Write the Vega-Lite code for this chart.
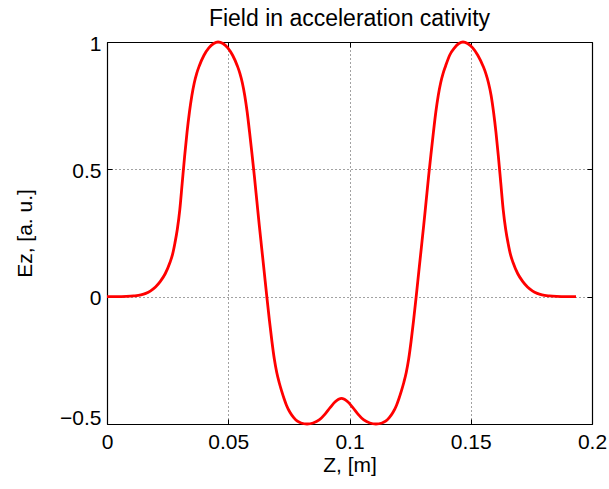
{
  "$schema": "https://vega.github.io/schema/vega-lite/v6.json",
  "autosize": {"type": "none"},
  "padding": {"left": 107, "top": 42, "right": 17, "bottom": 65},
  "width": 485,
  "height": 382,
  "title": {"text": "Field in acceleration cativity", "font": "Liberation Sans", "fontSize": 23, "fontWeight": "normal", "color": "black", "offset": 2, "anchor": "middle"},
  "config": {
    "view": {"stroke": null},
    "font": "Liberation Sans",
    "axis": {"labelFont": "Liberation Sans", "titleFont": "Liberation Sans", "labelColor": "black", "titleColor": "black", "domainColor": "black", "tickColor": "black", "titleFontWeight": "normal"}
  },
  "data": {"values": [
    {"z":0,"ez":0},{"z":0.004,"ez":0},{"z":0.008,"ez":0.001},{"z":0.011,"ez":0.003},{"z":0.014,"ez":0.007},{"z":0.016,"ez":0.013},{"z":0.018,"ez":0.023},{"z":0.02,"ez":0.038},{"z":0.022,"ez":0.06},{"z":0.024,"ez":0.09},{"z":0.026,"ez":0.135},{"z":0.027,"ez":0.165},{"z":0.028,"ez":0.21},{"z":0.029,"ez":0.265},{"z":0.03,"ez":0.34},{"z":0.031,"ez":0.445},{"z":0.032,"ez":0.55},{"z":0.033,"ez":0.645},{"z":0.034,"ez":0.725},{"z":0.035,"ez":0.79},{"z":0.036,"ez":0.84},{"z":0.037,"ez":0.877},{"z":0.038,"ez":0.905},{"z":0.04,"ez":0.948},{"z":0.042,"ez":0.977},{"z":0.044,"ez":0.994},{"z":0.0458,"ez":1},{"z":0.0478,"ez":0.994},{"z":0.0498,"ez":0.977},{"z":0.0518,"ez":0.948},{"z":0.0538,"ez":0.905},{"z":0.0548,"ez":0.877},{"z":0.0558,"ez":0.84},{"z":0.0568,"ez":0.79},{"z":0.0578,"ez":0.725},{"z":0.0588,"ez":0.645},{"z":0.0598,"ez":0.56},{"z":0.0608,"ez":0.47},{"z":0.0618,"ez":0.375},{"z":0.0628,"ez":0.28},{"z":0.0638,"ez":0.19},{"z":0.0648,"ez":0.1},{"z":0.0659,"ez":0},{"z":0.067,"ez":-0.095},{"z":0.068,"ez":-0.175},{"z":0.069,"ez":-0.245},{"z":0.07,"ez":-0.298},{"z":0.071,"ez":-0.337},{"z":0.072,"ez":-0.37},{"z":0.073,"ez":-0.4},{"z":0.074,"ez":-0.426},{"z":0.0755,"ez":-0.455},{"z":0.077,"ez":-0.475},{"z":0.0785,"ez":-0.489},{"z":0.08,"ez":-0.496},{"z":0.0825,"ez":-0.5},{"z":0.085,"ez":-0.496},{"z":0.0875,"ez":-0.484},{"z":0.09,"ez":-0.46},{"z":0.092,"ez":-0.436},{"z":0.094,"ez":-0.414},{"z":0.0955,"ez":-0.403},{"z":0.0967,"ez":-0.399},{"z":0.0979,"ez":-0.403},{"z":0.0994,"ez":-0.414},{"z":0.1014,"ez":-0.436},{"z":0.1034,"ez":-0.46},{"z":0.1059,"ez":-0.484},{"z":0.1084,"ez":-0.496},{"z":0.1109,"ez":-0.5},{"z":0.1134,"ez":-0.496},{"z":0.1149,"ez":-0.489},{"z":0.1164,"ez":-0.475},{"z":0.1179,"ez":-0.455},{"z":0.1194,"ez":-0.426},{"z":0.1204,"ez":-0.4},{"z":0.1214,"ez":-0.37},{"z":0.1224,"ez":-0.337},{"z":0.1234,"ez":-0.298},{"z":0.1244,"ez":-0.245},{"z":0.1254,"ez":-0.175},{"z":0.1264,"ez":-0.095},{"z":0.1275,"ez":0},{"z":0.1286,"ez":0.1},{"z":0.1296,"ez":0.19},{"z":0.1306,"ez":0.28},{"z":0.1316,"ez":0.375},{"z":0.1326,"ez":0.47},{"z":0.1336,"ez":0.56},{"z":0.1346,"ez":0.645},{"z":0.1356,"ez":0.725},{"z":0.1366,"ez":0.79},{"z":0.1376,"ez":0.84},{"z":0.1386,"ez":0.877},{"z":0.1396,"ez":0.905},{"z":0.1413,"ez":0.948},{"z":0.1433,"ez":0.977},{"z":0.1451,"ez":0.994},{"z":0.1468,"ez":1},{"z":0.1487,"ez":0.994},{"z":0.1508,"ez":0.977},{"z":0.1529,"ez":0.948},{"z":0.1551,"ez":0.905},{"z":0.1562,"ez":0.877},{"z":0.1573,"ez":0.84},{"z":0.1584,"ez":0.79},{"z":0.1594,"ez":0.725},{"z":0.1604,"ez":0.645},{"z":0.1614,"ez":0.55},{"z":0.1624,"ez":0.445},{"z":0.1634,"ez":0.34},{"z":0.1644,"ez":0.265},{"z":0.1654,"ez":0.21},{"z":0.1664,"ez":0.165},{"z":0.1674,"ez":0.135},{"z":0.1694,"ez":0.09},{"z":0.1714,"ez":0.06},{"z":0.1734,"ez":0.038},{"z":0.1754,"ez":0.023},{"z":0.1774,"ez":0.013},{"z":0.1794,"ez":0.007},{"z":0.1824,"ez":0.003},{"z":0.1854,"ez":0.001},{"z":0.1894,"ez":0},{"z":0.1934,"ez":0}
  ]},
  "layer": [
    {
      "mark": {"type": "line", "color": "#ff0000", "strokeWidth": 2.8, "interpolate": "monotone"},
      "encoding": {
        "x": {"field": "z", "type": "quantitative", "scale": {"domain": [0, 0.2], "nice": false},
          "axis": {"title": "Z, [m]", "values": [0, 0.05, 0.1, 0.15, 0.2], "format": "~g", "labelFontSize": 21, "titleFontSize": 21, "tickSize": -5, "labelPadding": 12, "titlePadding": 2, "labelFlush": false, "labelOverlap": false, "grid": true, "gridColor": "#444444", "gridDash": [1, 3], "domainWidth": 1.2}},
        "y": {"field": "ez", "type": "quantitative", "scale": {"domain": [-0.5, 1], "nice": false, "zero": false},
          "axis": {"title": "Eᴢ, [a. u.]", "values": [-0.5, 0, 0.5, 1], "format": "~g", "labelFontSize": 21, "titleFontSize": 21, "tickSize": -5, "labelPadding": 11, "titlePadding": 24, "labelFlush": false, "labelOverlap": false, "labelBaseline": "middle", "labelOffset": {"condition": {"test": "datum.value == -0.5", "value": -6}, "value": 2}, "grid": true, "gridColor": "#444444", "gridDash": [1, 3], "domainWidth": 1.2}}
      }
    },
    {
      "mark": {"type": "line", "strokeOpacity": 0},
      "encoding": {
        "x": {"field": "z", "type": "quantitative", "axis": {"orient": "top", "title": null, "labels": false, "values": [0, 0.05, 0.1, 0.15, 0.2], "tickSize": -5, "grid": false, "domainWidth": 1.2}},
        "y": {"field": "ez", "type": "quantitative", "axis": {"orient": "right", "title": null, "labels": false, "values": [-0.5, 0, 0.5, 1], "tickSize": -5, "grid": false, "domainWidth": 1.2}}
      }
    }
  ],
  "resolve": {"axis": {"x": "independent", "y": "independent"}}
}
